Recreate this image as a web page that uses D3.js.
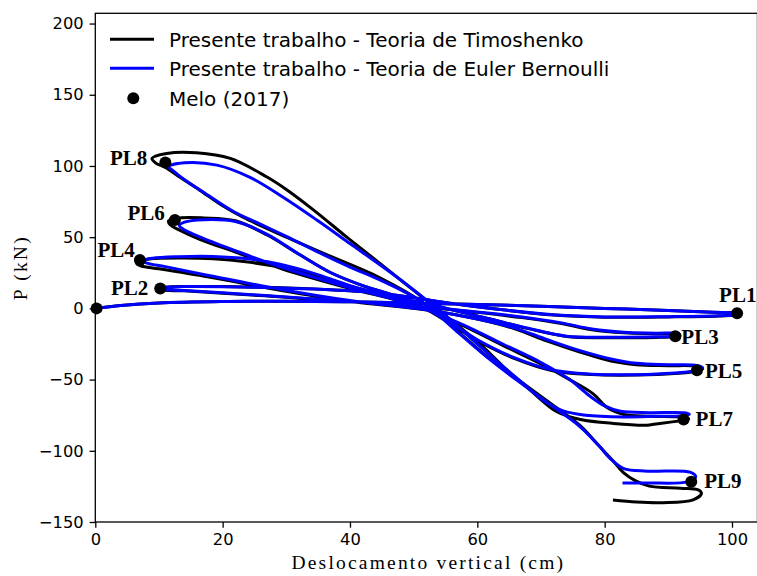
<!DOCTYPE html>
<html>
<head>
<meta charset="utf-8">
<script src="https://cdn.jsdelivr.net/npm/d3@7"></script>
<style>
  html, body { margin: 0; padding: 0; background: #fff; overflow: hidden; }
  svg { display: block; }
</style>
</head>
<body>
<svg id="chart" width="757" height="576"></svg>
<script>
// ---------------- DATA ----------------
const xTicks = [0, 20, 40, 60, 80, 100];
const yTicks = [-150, -100, -50, 0, 50, 100, 150, 200];

const legendLabels = [
  "Presente trabalho - Teoria de Timoshenko",
  "Presente trabalho - Teoria de Euler Bernoulli",
  "Melo (2017)"
];

// Timoshenko (black)  [displacement cm, P kN]
const timoshenko = [
  [0,0],[4,2],[10,3.8],[20,4.8],[30,5],[40,4.6],[50,3.8],[60,2.8],[70,1.5],[80,0],[90,-1.5],[97,-2.7],[100.6,-3.4],
  [101,-4.3],[98,-5.3],[90,-6],[80,-6.2],[72,-4.7],[64,-1],[56,3.5],[50,7.5],[44,11],[36,13.3],[28,14.6],[20,15.3],[14,15.4],[11,14.9],[9.9,14],
  [10.3,13],[14,12.3],[20,10.7],[30,7.8],[40,4.8],[52,0.8],[60,-2.8],[67,-6.5],[73,-10.5],[78,-15],[83,-17.2],[88,-17.8],[91.6,-18.1],[91.8,-19.2],[90.8,-20],
  [88,-20.4],[80,-20.6],[74,-19.7],[68,-14.2],[62,-7.5],[56,-1],[52,3],[46,9],[40,15.5],[34.3,23.5],[29,29],[24,32.5],[18.5,34.8],[13,35.3],[8.5,34.6],[6.5,33],[6.6,31],
  [7.2,29.8],[10,27.8],[18.5,21.5],[29,12.8],[40,5],[52,-1.2],[60,-7.5],[66,-14.5],[71,-23],[76,-30.5],[81,-37],[85,-39.5],[90,-40.2],[94.5,-40.7],[95.4,-42.5],[94.3,-44.2],
  [91,-45.8],[85,-46.8],[78,-46.5],[72,-44],[66,-35.5],[60,-22.5],[55,-8.5],[51,1.8],[47,9],[42,16],[37,25],[32,38],[27,51.5],[22,61.5],[17,63.5],[13.5,63.6],[11.5,61.5],[11.8,58.5],
  [13,55.5],[16.4,48.5],[22,39.5],[29.5,27.5],[40,14],[49.5,3],[57,-10.5],[64,-26],[70,-39],[74.5,-50],[78.2,-60],[80.5,-70],[83,-74.5],[87,-75.8],[92,-76.3],[93.2,-77.6],[92,-78.8],
  [88,-81.2],[86.6,-82],[81.4,-80.8],[76.2,-78],[72.5,-72.6],[68.3,-57.4],[64,-40.5],[60.4,-25],[56.5,-10.5],[52.6,3.5],[48.5,18],[44.7,31.6],[39.5,50],[34.3,69],[30,83.5],[26.9,92.4],[21.2,105.3],[15.9,109.3],[11.2,108.8],[8.9,105.3],[9.5,102],
  [11,99],[13,93],[16.4,83],[20,72],[23.2,64],[30,50],[37,36.5],[44.7,21.5],[51.5,4],[56.5,-14.5],[62,-35.5],[67,-52],[71.9,-68],[76.2,-82.5],[79,-96],[81.3,-107],[83,-115.5],[84.8,-121],[87,-124.8],[91.9,-126.3],[94.7,-127.5],[95.2,-130],[93.9,-134.4],[89.2,-136.4],[85,-136],[81.3,-134.6]
];

// Euler-Bernoulli (blue)
const eulerBernoulli = [
  [0,0],[4,2],[10,3.8],[20,4.8],[30,5],[40,4.6],[50,3.8],[60,2.8],[70,1.5],[80,0],[90,-1.5],[97,-2.7],[100.6,-3.4],
  [101,-4.3],[98,-5.2],[90,-5.8],[80,-6],[72,-4.5],[64,-1],[56,3.5],[50,7.5],[44,11],[36,13.2],[28,14.5],[20,15.2],[14,15.3],[11,14.8],[10.3,14],
  [11,13.2],[14,12.6],[20,11],[30,8],[40,5],[52,1],[60,-2.5],[67,-6],[73,-10],[78,-14.5],[83,-16.8],[88,-17.4],[91.6,-17.7],[91.8,-18.8],[91,-19.5],
  [88,-20],[80,-20.3],[74,-19.5],[68,-14],[62,-7.5],[56,-1],[52,3],[46,9],[40,16],[34.3,24.6],[29,31],[24,34.8],[18.5,36.5],[13,36.3],[9,35.2],[7.5,33.5],
  [8,32],[11,29.3],[18.5,22.5],[29,13.5],[40,5.5],[52,-1],[60,-7.5],[66,-14],[71,-22],[76,-29.5],[81,-35.5],[85,-38.6],[90,-39.5],[94.5,-40],[95.4,-41.8],[94.5,-43.6],
  [91,-45.4],[85,-46.6],[78,-46.2],[72,-43.5],[66,-35],[60,-22],[55,-8],[51,2],[47,9],[42,16],[37,25],[32,38],[27,52],[22,61],[17,62.3],[14,60.5],[13.2,58],
  [13.7,56],[16.5,50],[22,40.5],[29.5,28.5],[40,14.5],[49.5,3],[57,-10],[64,-25],[70,-38],[74.5,-50],[77.5,-61],[80,-68.5],[82.5,-72.3],[87,-73.2],[92.5,-73.3],[93.3,-74.4],[92.4,-75.3],
  [88,-75.8],[83,-76.2],[77,-75],[73.5,-72],[70.5,-65],[67,-52],[63,-37],[59,-21],[55.5,-7],[52.5,4],[49.4,15],[45.2,29],[40,45.5],[34.8,62],[29.5,78],[24.3,92],[19.1,100.6],[14,102.2],[11.5,99.5],
  [12,97.5],[13.8,91],[17,81.5],[21.7,68],[26,59],[30,50.5],[35,39.5],[40,29],[44.7,20],[51.5,4],[56.5,-15],[62,-36],[67,-53],[71.9,-69],[76.2,-83.3],[79,-96],[81,-106],[83,-112.5],[86.7,-114.3],[93.4,-115],[94.3,-118.3],[93,-121.8],[86.7,-122.6],[82.8,-122.7]
];

// Melo (2017) reference points
const meloX = [0.2, 100.8, 10.2, 91.1, 7.0, 94.5, 12.5, 92.4, 11.0, 93.6];
const meloY = [0, -3.5, 14, -19.5, 33.9, -43.5, 62, -78, 102.5, -121.8];

// Point labels (index into Melo points)
const plLabels = ["PL1","PL2","PL3","PL4","PL5","PL6","PL7","PL8","PL9"];
const plIndex  = [1, 2, 3, 4, 5, 6, 7, 8, 9];

// ---------------- LAYOUT ----------------
const W = 757, H = 576;
const mLeft = 95.3, mTop = 13.3, mBottom = 522;
const xDomain = [0, 104];
const yDomain = [-150, 207.2];
const pxPerUnit = (732 - 95.3) / 100;

const svg = d3.select("#chart");
svg.append("rect").attr("width", W).attr("height", H).attr("fill", "#fff");

const x = d3.scaleLinear().domain(xDomain).range([mLeft, mLeft + pxPerUnit * (xDomain[1] - xDomain[0])]);
const y = d3.scaleLinear().domain(yDomain).range([mBottom, mTop]);

const tickFont = "'DejaVu Sans', sans-serif";
const serif = "'Liberation Serif', 'Times New Roman', serif";

svg.append("clipPath").attr("id", "clip").append("rect")
  .attr("x", x(xDomain[0])).attr("y", y(yDomain[1]))
  .attr("width", x(xDomain[1]) - x(xDomain[0])).attr("height", y(yDomain[0]) - y(yDomain[1]));

const line = d3.line().x(d => x(d[0])).y(d => y(d[1])).curve(d3.curveCatmullRom.alpha(0.5));

const plot = svg.append("g").attr("clip-path", "url(#clip)");
plot.append("path").datum(timoshenko).attr("d", line)
  .attr("fill", "none").attr("stroke", "#000").attr("stroke-width", 3).attr("stroke-linejoin", "round");
plot.append("path").datum(eulerBernoulli).attr("d", line)
  .attr("fill", "none").attr("stroke", "#0000ff").attr("stroke-width", 3).attr("stroke-linejoin", "round");

const melo = meloX.map((v, i) => [v, meloY[i]]);
svg.append("g").selectAll("circle").data(melo).join("circle")
  .attr("cx", d => x(d[0])).attr("cy", d => y(d[1])).attr("r", 6).attr("fill", "#000");

const labelOffsets = {
  PL1: [-18, -19, "start"], PL2: [-12, -1, "end"], PL3: [6, 0, "start"], PL4: [-5, -10, "end"],
  PL5: [8, 0, "start"], PL6: [-10, -7, "end"], PL7: [12, -1, "start"], PL8: [-18, -5, "end"], PL9: [13, -1, "start"]
};
svg.append("g").selectAll("text").data(plLabels).join("text")
  .attr("x", (d, i) => x(melo[plIndex[i]][0]) + labelOffsets[d][0])
  .attr("y", (d, i) => y(melo[plIndex[i]][1]) + labelOffsets[d][1])
  .attr("dy", "0.35em")
  .attr("text-anchor", d => labelOffsets[d][2])
  .attr("font-family", serif).attr("font-weight", "bold").attr("font-size", 21)
  .text(d => d);

const xAxis = d3.axisBottom(x).tickValues(xTicks).tickSize(5.7).tickPadding(6).tickFormat(d3.format("d"));
const yAxis = d3.axisLeft(y).tickValues(yTicks).tickSize(5.7).tickPadding(6)
  .tickFormat(d => d < 0 ? "\u2212" + Math.abs(d) : String(d));

const gx = svg.append("g").attr("transform", `translate(0,${mBottom})`).call(xAxis);
const gy = svg.append("g").attr("transform", `translate(${mLeft},0)`).call(yAxis);
[gx, gy].forEach(g => {
  g.select(".domain").remove();
  g.selectAll(".tick line").attr("stroke", "#000").attr("stroke-width", 1.3);
  g.selectAll(".tick text").attr("font-family", tickFont).attr("font-size", 16.3).attr("fill", "#000");
});

const x0 = x(xDomain[0]), x1 = x(xDomain[1]), y0 = y(yDomain[0]), y1 = y(yDomain[1]);
svg.append("rect").attr("x", x0).attr("y", y1).attr("width", x1 - x0).attr("height", y0 - y1)
  .attr("fill", "none").attr("stroke", "#000").attr("stroke-width", 1.3);

svg.append("text").attr("x", (x0 + x1) / 2 + 2).attr("y", 569)
  .attr("text-anchor", "middle").attr("font-family", serif).attr("font-size", 19.5)
  .attr("letter-spacing", 2.2).text("Deslocamento vertical (cm)");
svg.append("text").attr("transform", `translate(27,${(y0 + y1) / 2}) rotate(-90)`)
  .attr("text-anchor", "middle").attr("font-family", serif).attr("font-size", 19.5)
  .attr("letter-spacing", 2.2).text("P (kN)");

const legendRows = [39.3, 68.3, 98.3];
const lg = svg.append("g");
lg.append("line").attr("x1", 110).attr("x2", 154).attr("y1", legendRows[0]).attr("y2", legendRows[0])
  .attr("stroke", "#000").attr("stroke-width", 3);
lg.append("line").attr("x1", 110).attr("x2", 154).attr("y1", legendRows[1]).attr("y2", legendRows[1])
  .attr("stroke", "#0000ff").attr("stroke-width", 3);
lg.append("circle").attr("cx", 133.3).attr("cy", legendRows[2]).attr("r", 6).attr("fill", "#000");
lg.selectAll("text").data(legendLabels).join("text")
  .attr("x", 169).attr("y", (d, i) => legendRows[i]).attr("dy", "0.36em")
  .attr("font-family", tickFont).attr("font-size", 20).attr("fill", "#000")
  .text(d => d);
</script>
</body>
</html>
